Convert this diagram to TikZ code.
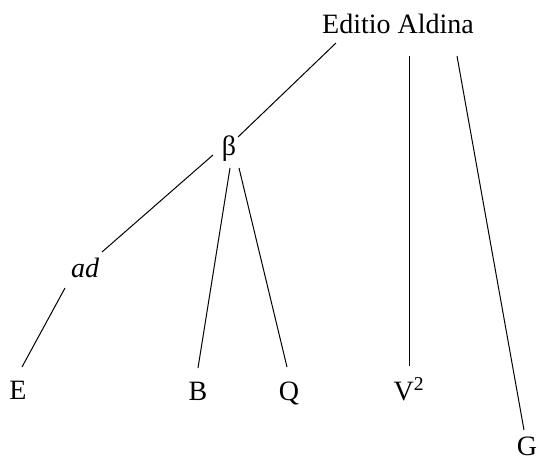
\documentclass[tikz,border=0pt]{standalone}
\usepackage{fontspec}
\setmainfont{Liberation Serif}
\usepackage{tikz}
\tikzset{
  witness/.style={anchor=base, inner sep=0pt, font=\fontsize{28}{30}\selectfont},
  stemma/.style={line width=1pt, color=black}
}

\begin{document}
\begin{tikzpicture}[x=1pt, y=-1pt]
  \useasboundingbox (0,0) rectangle (542,461);

  % Witnesses
  \node[witness] (aldina) at (398,33) {Editio Aldina};
  \node[witness] (beta) at (229,155) {β};
  \node[witness, font=\fontsize{28}{30}\selectfont\itshape] (ad) at (85,277) {ad};
  \node[witness] (e) at (18,399) {E};
  \node[witness] (b) at (198,400) {B};
  \node[witness] (q) at (289,400) {Q};
  \node[witness] (v2) at (409,400) {V\textsuperscript{2}};
  \node[witness] (g) at (527,455) {G};

  % Descent from the Aldine edition
  \draw[stemma] ([shift={(-62,10)}]aldina.base) -- ([shift={(9,-18)}]beta.base);
  \draw[stemma] ([shift={(11,23)}]aldina.base) -- ([shift={(0,-34)}]v2.base);
  \draw[stemma] ([shift={(59,23)}]aldina.base) -- ([shift={(-3,-25)}]g.base);

  % Descent from beta
  \draw[stemma] ([shift={(-16,0)}]beta.base) -- ([shift={(17,-25)}]ad.base);
  \draw[stemma] ([shift={(1,13)}]beta.base) -- ([shift={(0,-32)}]b.base);
  \draw[stemma] ([shift={(10,13)}]beta.base) -- ([shift={(-2,-33)}]q.base);
  \draw[stemma] ([shift={(-20,11)}]ad.base) -- ([shift={(4,-32)}]e.base);
\end{tikzpicture}
\end{document}
